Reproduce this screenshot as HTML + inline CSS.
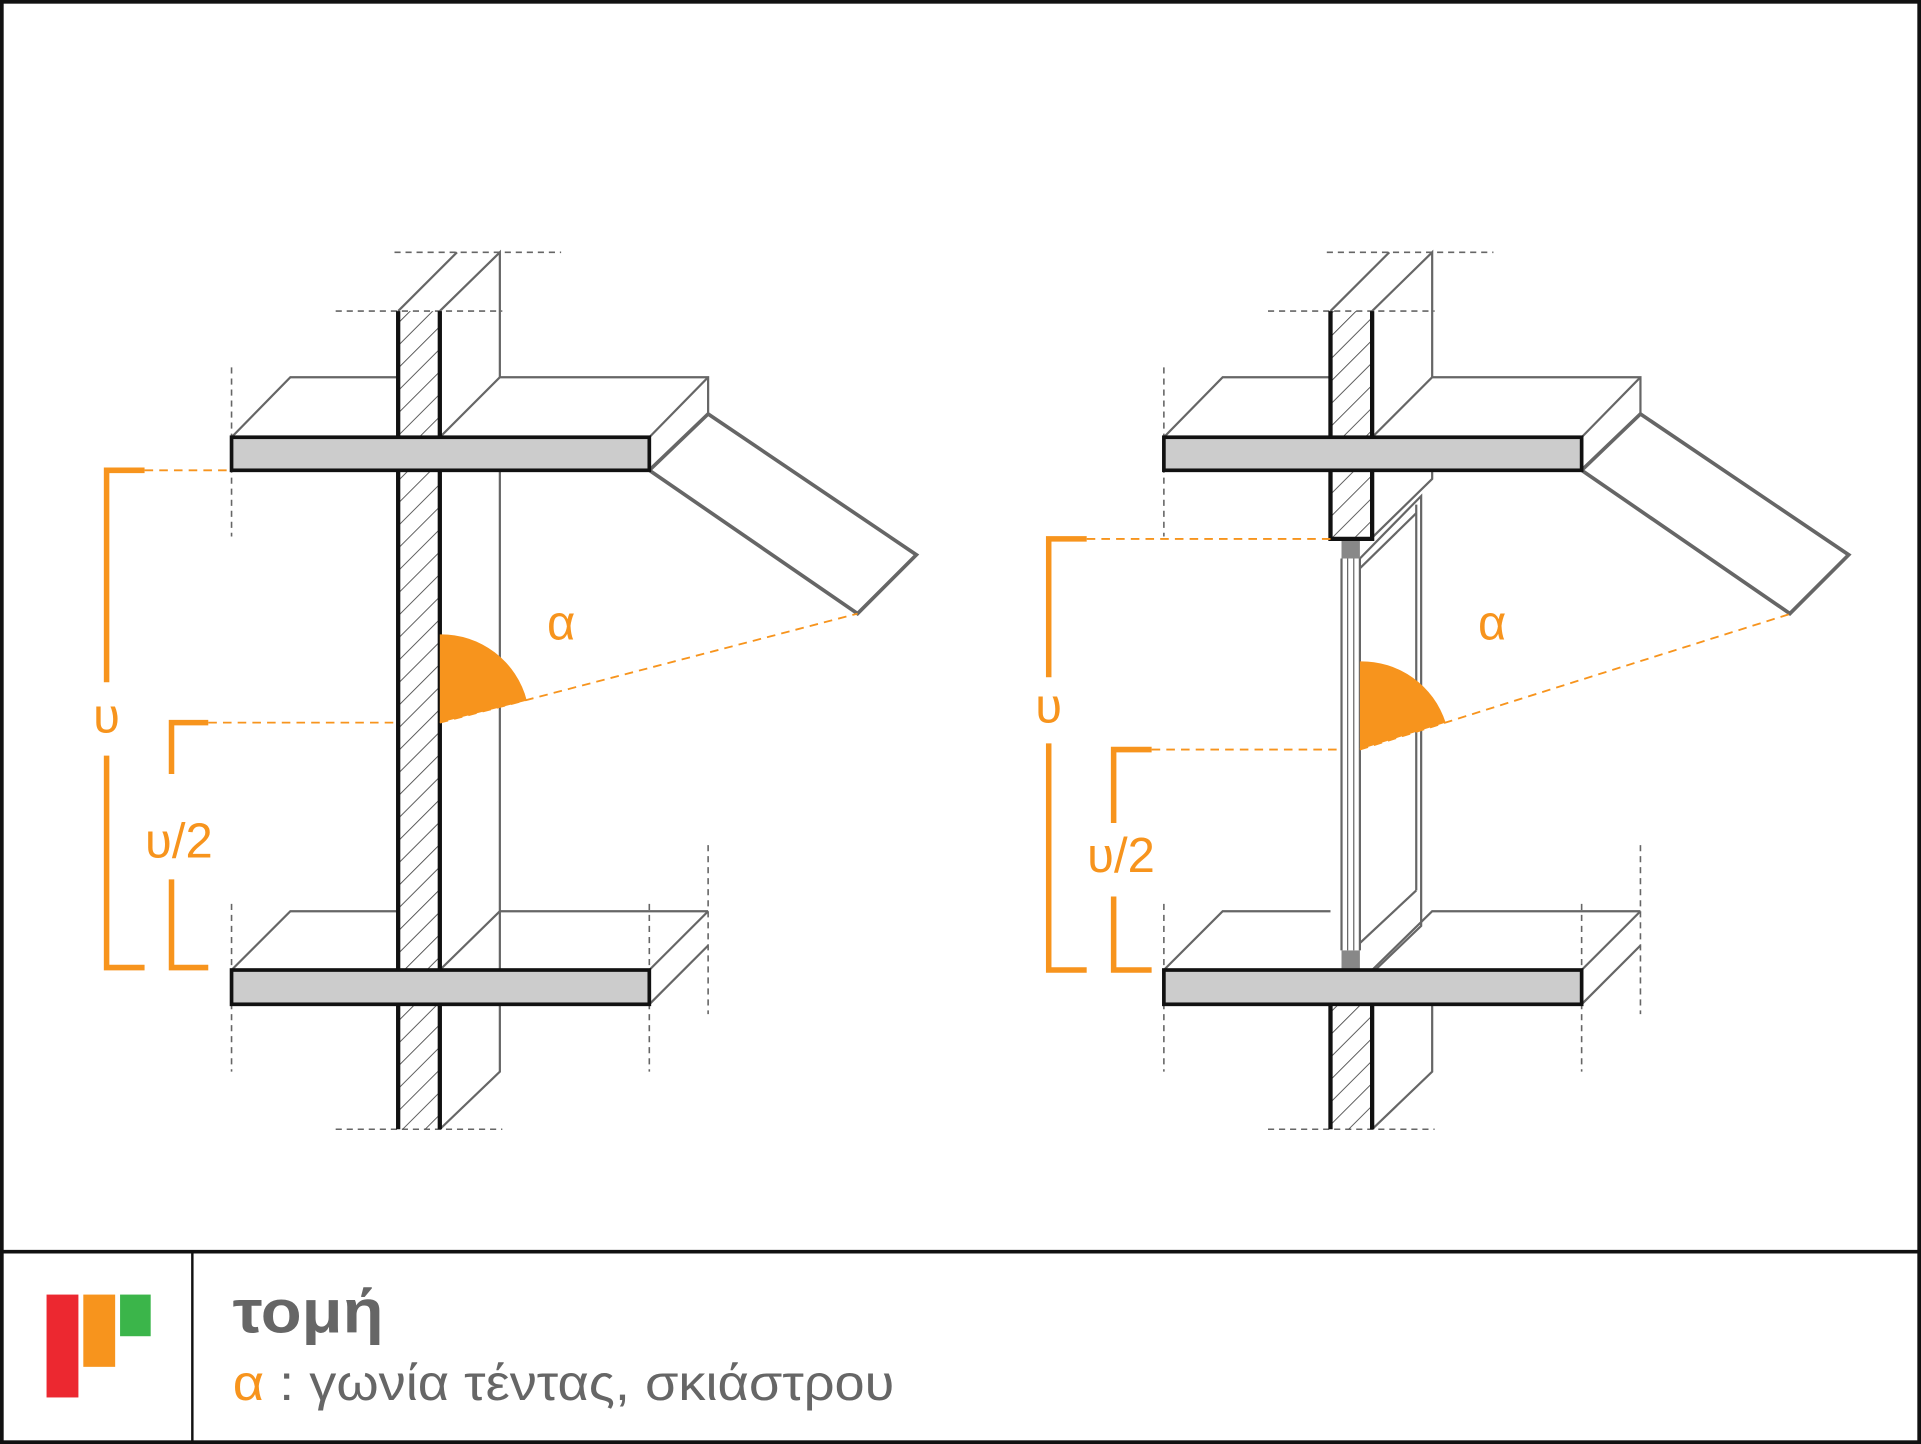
<!DOCTYPE html>
<html><head><meta charset="utf-8"><style>
html,body{margin:0;padding:0;background:#fff}
svg{display:block}
</style></head><body>
<svg width="1921" height="1444" viewBox="0 0 1568 1179" preserveAspectRatio="none" xmlns="http://www.w3.org/2000/svg">
<defs>
<pattern id="h" patternUnits="userSpaceOnUse" width="13" height="13" patternTransform="rotate(45)">
<line x1="0" y1="0" x2="0" y2="13" stroke="#444" stroke-width="1.4"/>
</pattern>
</defs>
<rect x="1.5" y="1.5" width="1565" height="1176" fill="#fff" stroke="#111" stroke-width="3"/>
<line x1="0" y1="1022" x2="1568" y2="1022" stroke="#111" stroke-width="3"/>
<line x1="157" y1="1022" x2="157" y2="1178" stroke="#111" stroke-width="2"/>
<rect x="38" y="1057" width="26" height="84" fill="#ec2830"/>
<rect x="68" y="1057" width="26" height="59" fill="#f7941d"/>
<rect x="98" y="1057" width="25" height="34" fill="#3bb54a"/>
<text x="190" y="1088" font-family="Liberation Sans, DejaVu Sans, sans-serif" font-size="50" font-weight="bold" fill="#666" textLength="123" lengthAdjust="spacingAndGlyphs">τομή</text>
<text x="190" y="1143" font-family="Liberation Sans, DejaVu Sans, sans-serif" font-size="41" fill="#666" textLength="540" lengthAdjust="spacingAndGlyphs"><tspan fill="#f7941d">α</tspan> : γωνία τέντας, σκιάστρου</text>

<!-- LEFT -->
<g fill="none" stroke="#666" stroke-width="1.8">
<g stroke-dasharray="5,4" stroke-width="1.3">
<line x1="322" y1="206" x2="458" y2="206"/>
<line x1="274" y1="254" x2="410" y2="254"/>
<line x1="274" y1="922" x2="410" y2="922"/>
<line x1="189" y1="300" x2="189" y2="438"/>
<line x1="189" y1="738" x2="189" y2="875"/>
<line x1="530" y1="738" x2="530" y2="875"/>
<line x1="578" y1="690" x2="578" y2="828"/>
</g>
<polyline points="325,254 373,206"/>
<polyline points="359,254 408,206 408,308"/>
<polyline points="189,357 237,308 325,308"/>
<polyline points="359,357 408,308 578,308 578,338"/>
<line x1="530" y1="357" x2="578" y2="308"/>
<polyline points="408,384 408,792"/>
<polyline points="189,792 237,744 325,744"/>
<polyline points="359,792 408,744 578,744"/>
<line x1="530" y1="792" x2="578" y2="744"/>
<line x1="530" y1="820" x2="578" y2="772"/>
<polyline points="408,820 408,875 359,922"/>
<polygon points="530,384 578,338 748,453 700,501" stroke-width="3"/>
<rect x="325" y="254" width="34" height="668" fill="url(#h)" stroke="none"/>
<line x1="325" y1="254" x2="325" y2="922" stroke="#111" stroke-width="3.5"/>
<line x1="359" y1="254" x2="359" y2="922" stroke="#111" stroke-width="3.5"/>
<rect x="189" y="357" width="341" height="27" fill="#ccc" stroke="#111" stroke-width="3"/>
<rect x="189" y="792" width="341" height="28" fill="#ccc" stroke="#111" stroke-width="3"/>
</g>
<g stroke="#f7941d" fill="none">
<polyline points="118,384 87,384 87,557" stroke-width="4.5"/>
<polyline points="87,617 87,790 118,790" stroke-width="4.5"/>
<polyline points="170,590 140,590 140,632" stroke-width="4.5"/>
<polyline points="140,718 140,790 170,790" stroke-width="4.5"/>
<g stroke-dasharray="7,5" stroke-width="1.5">
<line x1="118" y1="384" x2="189" y2="384"/>
<line x1="170" y1="590" x2="325" y2="590"/>
<line x1="359" y1="590" x2="700" y2="501"/>
</g>
</g>
<path d="M359,590 L359,518 A72,72 0 0 1 430,572 Z" fill="#f7941d"/>
<g font-family="Liberation Sans, DejaVu Sans, sans-serif" fill="#f7941d" font-size="40" text-anchor="middle">
<text x="87" y="598">υ</text>
<text x="146" y="700">υ/2</text>
<text x="458" y="522">α</text>
</g>

<!-- RIGHT -->
<g fill="none" stroke="#666" stroke-width="1.8">
<g stroke-dasharray="5,4" stroke-width="1.3">
<line x1="1083" y1="206" x2="1219" y2="206"/>
<line x1="1035" y1="254" x2="1171" y2="254"/>
<line x1="1035" y1="922" x2="1171" y2="922"/>
<line x1="950" y1="300" x2="950" y2="438"/>
<line x1="950" y1="738" x2="950" y2="875"/>
<line x1="1291" y1="738" x2="1291" y2="875"/>
<line x1="1339" y1="690" x2="1339" y2="828"/>
</g>
<polyline points="1086,254 1134,206"/>
<polyline points="1120,254 1169,206 1169,308"/>
<polyline points="950,357 998,308 1086,308"/>
<polyline points="1120,357 1169,308 1339,308 1339,338"/>
<line x1="1291" y1="357" x2="1339" y2="308"/>
<polyline points="1169,384 1169,391 1121,438"/>
<polyline points="1110,456 1160,405 1160,756 1110,804"/>
<line x1="1156" y1="412" x2="1156" y2="727"/>
<line x1="1110" y1="464" x2="1156" y2="419"/>
<line x1="1110" y1="770" x2="1156" y2="727"/>
<line x1="1095" y1="456" x2="1095" y2="776"/>
<line x1="1100" y1="456" x2="1100" y2="776" stroke-width="1"/>
<line x1="1105" y1="456" x2="1105" y2="776" stroke-width="1"/>
<line x1="1110" y1="456" x2="1110" y2="776"/>
<polyline points="950,792 998,744 1086,744"/>
<polyline points="1120,792 1169,744 1339,744"/>
<line x1="1291" y1="792" x2="1339" y2="744"/>
<line x1="1291" y1="820" x2="1339" y2="772"/>
<polyline points="1169,820 1169,875 1120,922"/>
<polygon points="1291,384 1339,338 1509,453 1461,501" stroke-width="3"/>
<rect x="1095" y="440" width="15" height="16" fill="#888" stroke="none"/>
<rect x="1095" y="776" width="15" height="16" fill="#888" stroke="none"/>
<rect x="1086" y="254" width="34" height="186" fill="url(#h)" stroke="none"/>
<polyline points="1086,254 1086,440 1120,440 1120,254" stroke="#111" stroke-width="3.5"/>
<rect x="1086" y="820" width="34" height="102" fill="url(#h)" stroke="none"/>
<line x1="1086" y1="820" x2="1086" y2="922" stroke="#111" stroke-width="3.5"/>
<line x1="1120" y1="820" x2="1120" y2="922" stroke="#111" stroke-width="3.5"/>
<rect x="950" y="357" width="341" height="27" fill="#ccc" stroke="#111" stroke-width="3"/>
<rect x="950" y="792" width="341" height="28" fill="#ccc" stroke="#111" stroke-width="3"/>
</g>
<g stroke="#f7941d" fill="none">
<polyline points="887,440 856,440 856,553" stroke-width="4.5"/>
<polyline points="856,607 856,792 887,792" stroke-width="4.5"/>
<polyline points="940,612 909,612 909,672" stroke-width="4.5"/>
<polyline points="909,732 909,792 940,792" stroke-width="4.5"/>
<g stroke-dasharray="7,5" stroke-width="1.5">
<line x1="887" y1="440" x2="1086" y2="440"/>
<line x1="940" y1="612" x2="1095" y2="612"/>
<line x1="1110" y1="612" x2="1462" y2="501"/>
</g>
</g>
<path d="M1110,612 L1110,540 A72,72 0 0 1 1180,590 Z" fill="#f7941d"/>
<g font-family="Liberation Sans, DejaVu Sans, sans-serif" fill="#f7941d" font-size="40" text-anchor="middle">
<text x="856" y="590">υ</text>
<text x="915" y="712">υ/2</text>
<text x="1218" y="522">α</text>
</g>
</svg>
</body></html>
